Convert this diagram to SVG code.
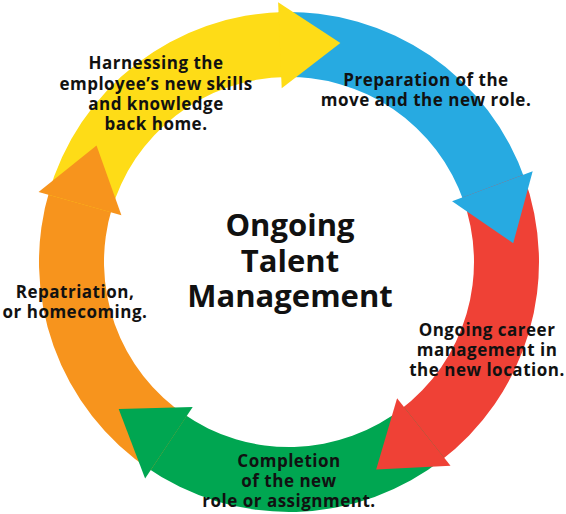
<svg xmlns="http://www.w3.org/2000/svg" width="566" height="514" viewBox="0 0 566 514">
<style>
.lbl{font-family:"Open Sans","Liberation Sans",sans-serif;font-weight:700;font-size:17px;letter-spacing:0.5px;fill:#111;text-anchor:middle}
.ttl{font-family:"Open Sans","Liberation Sans",sans-serif;font-weight:700;font-size:31px;fill:#111;text-anchor:middle}
.blue{fill:#27AAE1}.red{fill:#EF4136}.green{fill:#00A651}.orange{fill:#F7941D}.yellow{fill:#FEDC17}
</style>
<rect width="566" height="514" fill="#fff"/>
<g id="connectors">
<path class="blue" d="M278.53 12.22 A250 250 0 0 1 525.52 181.02 L464.03 202.07 A185 185 0 0 0 281.25 77.16 Z"/>
<path class="red" d="M523.32 174.86 A250 250 0 0 1 439.11 461.92 L400.08 409.94 A185 185 0 0 0 462.40 197.51 Z"/>
<path class="green" d="M444.29 457.92 A250 250 0 0 1 145.25 466.54 L182.62 413.36 A185 185 0 0 0 403.91 406.98 Z"/>
<path class="orange" d="M150.65 470.23 A250 250 0 0 1 50.05 188.49 L112.18 207.60 A185 185 0 0 0 186.62 416.09 Z"/>
<path class="yellow" d="M48.21 194.77 A250 250 0 0 1 285.07 12.03 L286.09 77.02 A185 185 0 0 0 110.82 212.25 Z"/>
<polygon class="blue" points="532.69,171.37 513.21,243.17 452.09,201.35"/>
<polygon class="red" points="450.50,465.76 376.19,469.42 397.08,398.36"/>
<polygon class="green" points="145.12,478.56 118.67,409.02 192.71,406.93"/>
<polygon class="orange" points="38.58,192.08 96.53,145.44 121.41,215.21"/>
<polygon class="yellow" points="278.11,2.23 340.38,42.94 281.71,88.15"/>
</g>
<g id="center">
<text class="ttl" x="290" y="236">Ongoing</text>
<text class="ttl" x="290" y="272">Talent</text>
<text class="ttl" x="290" y="307">Management</text>
</g>
<g id="harnessing">
<text class="lbl" x="156" y="69">Harnessing the</text>
<text class="lbl" x="156" y="90">employee’s new skills</text>
<text class="lbl" x="156" y="110">and knowledge</text>
<text class="lbl" x="156" y="130">back home.</text>
</g>
<g id="preparation">
<text class="lbl" x="426" y="86">Preparation of the</text>
<text class="lbl" x="426" y="106">move and the new role.</text>
</g>
<g id="ongoing-career">
<text class="lbl" x="487" y="336">Ongoing career</text>
<text class="lbl" x="487" y="356">management in</text>
<text class="lbl" x="487" y="376">the new location.</text>
</g>
<g id="completion">
<text class="lbl" x="289" y="467">Completion</text>
<text class="lbl" x="289" y="487">of the new</text>
<text class="lbl" x="289" y="507">role or assignment.</text>
</g>
<g id="repatriation">
<text class="lbl" x="75" y="298">Repatriation,</text>
<text class="lbl" x="75" y="318">or homecoming.</text>
</g>
</svg>
